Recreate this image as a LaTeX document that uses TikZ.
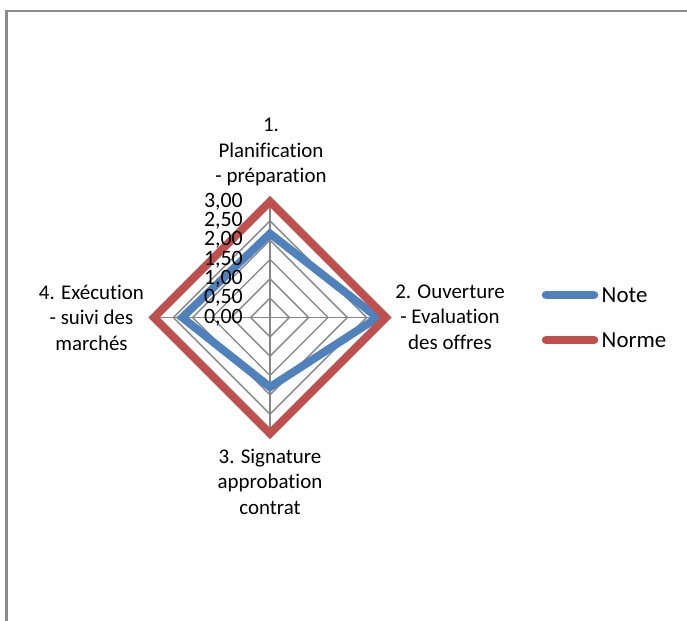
\documentclass[tikz,border=0pt]{standalone}
\usepackage{fontspec}
\setmainfont{Carlito}[Ligatures=NoCommon]
\usepackage{xcolor}
\usepackage{tikz}
\usetikzlibrary{positioning}

\definecolor{notecol}{HTML}{4F81BD}
\definecolor{normecol}{HTML}{C0504D}
\definecolor{webcol}{HTML}{868686}
\definecolor{framecol}{HTML}{8C8C8C}

\begin{document}
\begin{tikzpicture}[
    x=1bp, y=1bp,
    webline/.style={draw=webcol, line width=1.4bp},
    serie/.style={line width=8bp},
    axlabel/.style={align=center, font=\fontsize{21}{25.5}\selectfont, inner sep=0pt},
    ticklabel/.style={anchor=east, font=\fontsize{22}{22}\selectfont, inner sep=0pt},
    legline/.style={line width=8.5bp, line cap=round},
    legtext/.style={font=\fontsize{23}{23}\selectfont, inner sep=0pt}
]
    \def\u{38.67}
    \useasboundingbox (-270,-303.5) rectangle (417,317.5);

    % Frame of the chart area
    \draw[framecol, line width=2.2bp] (-263.5,-303.5) -- (-263.5,306.5) -- (417,306.5);

    % Radar web
    \foreach \r in {0.5,1,1.5,2,2.5,3}
        \draw[webline] (90:\r*\u) -- (0:\r*\u) -- (-90:\r*\u) -- (180:\r*\u) -- cycle;
    \foreach \a in {90,0,-90,180}
        \draw[webline] (0,0) -- (\a:3*\u);

    % Series
    \draw[serie, notecol] (90:2.17*\u) -- (0:2.78*\u) -- (-90:1.8*\u) -- (180:2.27*\u) -- cycle;
    \draw[serie, normecol] (90:3*\u) -- (0:3*\u) -- (-90:3*\u) -- (180:3*\u) -- cycle;

    % Scale
    \foreach \k/\lab in {0/{0,00}, 1/{0,50}, 2/{1,00}, 3/{1,50}, 4/{2,00}, 5/{2,50}, 6/{3,00}}
        \node[ticklabel] (tick\k) at (-27, \k*19.33) {\lab};

    % Axis labels
    \node[axlabel] (ax1) at (1,165.5) {1.\\Planification\\- préparation};
    \node[axlabel] (ax2) at (180,0.5) {2. Ouverture\\- Evaluation\\des offres};
    \node[axlabel] (ax3) at (0,-164.2) {3. Signature\\approbation\\contrat};
    \node[axlabel] (ax4) at (-178.5,0) {4. Exécution\\- suivi des\\marchés};

    % Legend
    \coordinate (noteA) at (276,22.5);
    \coordinate (noteB) at (324,22.5);
    \coordinate (normeA) at (276,-22.5);
    \coordinate (normeB) at (324,-22.5);
    \draw[legline, notecol] (noteA) -- (noteB);
    \draw[legline, normecol] (normeA) -- (normeB);
    \node[legtext, right=7.5bp of noteB] (notetxt) {Note};
    \node[legtext, right=7.5bp of normeB] (normetxt) {Norme};
\end{tikzpicture}
\end{document}
